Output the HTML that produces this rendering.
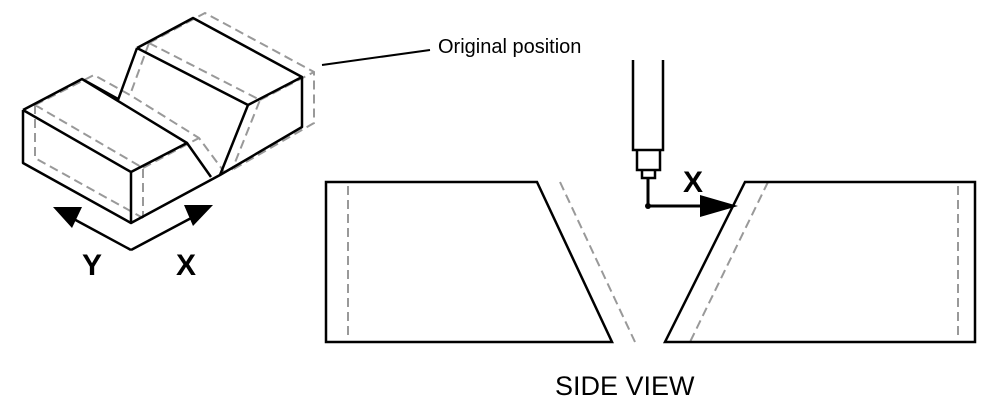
<!DOCTYPE html>
<html><head><style>body{margin:0;background:#fff}</style></head><body>
<svg width="1000" height="405" viewBox="0 0 1000 405" xmlns="http://www.w3.org/2000/svg" font-family="Liberation Sans, sans-serif">
<g fill="none" stroke="#999" stroke-width="2" stroke-dasharray="9,5">
<path d="M35,105 L94,75 L130,95 L199,138 L225,173 M35,105 L35,158 L143,218 M35,105 L143,168 L143,218 M143,168 L199,138"/>
<path d="M149,43 L205,13 L314,72 L314,123 L232,170 M149,43 L260,100 L232,170 M260,100 L314,72 M149,43 L130,95"/>
</g>
<g fill="none" stroke="#000" stroke-width="2.5" stroke-linejoin="round">
<path d="M23,110 L82,79 L118,99 M23,110 L23,163 L131,223 L220,175 M23,110 L131,172 L131,223 M131,172 L187,143 L82,79 M187,143 L211,177 M137,48 L118,100 M137,48 L193,18 L302,77 L302,127 L220,175 M137,48 L248,105 L220,175 M248,105 L302,77"/>
<path d="M131,250 L70,217 M131,250 L195,216"/>
<path d="M322,65 L430,50" stroke-width="2"/>
</g>
<polygon points="53,207 82,207 72,228" fill="#000"/>
<polygon points="213,205 184,205 193,226" fill="#000"/>
<text x="82" y="275" font-size="30" font-weight="bold">Y</text>
<text x="176" y="275" font-size="30" font-weight="bold">X</text>
<text x="438" y="53" font-size="20">Original position</text>
<g fill="none" stroke="#999" stroke-width="2" stroke-dasharray="9,5">
<path d="M348,186 L348,340 M560,182 L635,342 M768,182 L690,342 M958,186 L958,340"/>
<path d="M768,182 L975,182 M690,342 L975,342" stroke-dasharray="2,4"/>
</g>
<g fill="none" stroke="#000" stroke-width="2.5">
<path d="M326,182 L537,182 L612,342 L326,342 Z"/>
<path d="M745,182 L975,182 L975,342 L665,342 Z"/>
<path d="M633,60 L633,150 L663,150 L663,60 M637,150 L637,170 L660,170 L660,150 M642,170 L642,178 L655,178 L655,170"/>
<path d="M648,178 L648,206 L712,206" stroke-width="3"/>
</g>
<circle cx="648" cy="206" r="3" fill="#000"/>
<polygon points="700,195 738,206 700,217" fill="#000"/>
<text x="683" y="192" font-size="30" font-weight="bold">X</text>
<text x="555" y="395" font-size="27">SIDE VIEW</text>
</svg>
</body></html>
